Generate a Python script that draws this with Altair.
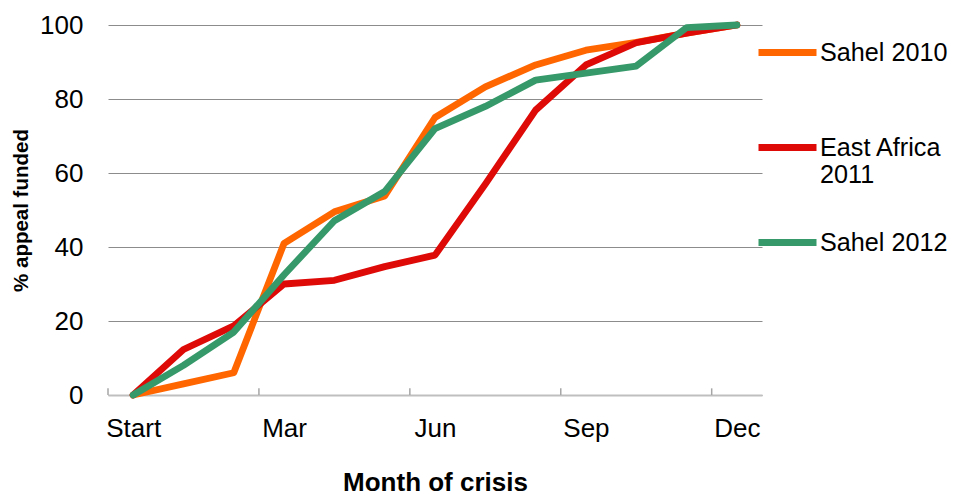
import altair as alt
import pandas as pd

months = ["Start", "Jan", "Feb", "Mar", "Apr", "May", "Jun",
          "Jul", "Aug", "Sep", "Oct", "Nov", "Dec"]
labelled = ["Start", "Mar", "Jun", "Sep", "Dec"]

series_names = ["Sahel 2010", "East Africa 2011", "Sahel 2012"]
series_colors = ["#FF6600", "#DD0A08", "#36996A"]

sahel_2010 = [0, 3, 6, 41, 49.5, 53.8, 75, 83.3, 89.2, 93.2, 95.3, 97.8, 100]
east_africa_2011 = [0, 12.3, 18.7, 30, 31, 34.7, 37.8, 57, 77, 89.2, 95.2, 97.8, 100]
sahel_2012 = [0, 8, 17, 32.5, 47.1, 55, 72, 78, 85.1, 87, 88.9, 99.3, 100]

y_ticks = [0, 20, 40, 60, 80, 100]

rows = []
for name, vals in zip(series_names, [sahel_2010, east_africa_2011, sahel_2012]):
    for i, v in enumerate(vals):
        rows.append({"idx": i, "month": months[i], "series": name, "value": v})
df = pd.DataFrame(rows)

label_idx = [months.index(m) for m in labelled]
tick_df = pd.DataFrame({"pos": [i - 0.5 for i in label_idx if i - 0.5 < len(months) - 1],
                        "y0": 0, "y1": 1.8})

month_js = "[" + ",".join("'" + m + "'" for m in months) + "]"

x_scale = alt.Scale(domain=[-0.5, len(months) - 0.5], nice=False, zero=False)
y_scale = alt.Scale(domain=[0, 100], nice=False)

lines = alt.Chart(df).mark_line(
    strokeWidth=6.8, strokeCap="round", strokeJoin="round"
).encode(
    x=alt.X("idx:Q", scale=x_scale,
            axis=alt.Axis(values=label_idx, labelExpr=month_js + "[datum.value]",
                          title="Month of crisis", grid=False, ticks=False, tickSize=0,
                          labelPadding=20, titleY=95, titleBaseline="alphabetic",
                          domainColor="#BFBFBF", domainWidth=2,
                          labelFontSize=26, titleFontSize=26, titleFontWeight="bold",
                          labelFont="Liberation Sans", titleFont="Liberation Sans",
                          labelColor="#000000", titleColor="#000000", labelFlush=False)),
    y=alt.Y("value:Q", scale=y_scale,
            axis=alt.Axis(values=y_ticks, title="% appeal funded", grid=True,
                          gridColor="#8C8C8C", gridWidth=1, domain=False, ticks=False,
                          tickSize=0, labelPadding=25, titlePadding=8,
                          labelFontSize=26, titleFontSize=20.5, titleFontWeight="bold",
                          labelFont="Liberation Sans", titleFont="Liberation Sans",
                          labelColor="#000000", titleColor="#000000")),
    color=alt.Color("series:N",
                    scale=alt.Scale(domain=series_names, range=series_colors),
                    legend=alt.Legend(orient="none", legendX=647, legendY=-5, title=None,
                                      symbolType="stroke", symbolStrokeWidth=7,
                                      symbolSize=3364, labelFontSize=25.2,
                                      labelFont="Liberation Sans", labelColor="#000000",
                                      labelOffset=0, rowPadding=22, padding=0,
                                      labelLimit=400,
                                      labelExpr="datum.label == 'East Africa 2011' ? ['East Africa', '2011'] : [datum.label, ' ']")),
    order=alt.Order("idx:Q"),
)

ticks = alt.Chart(tick_df).mark_rule(color="#A6A6A6", strokeWidth=1.5).encode(
    x=alt.X("pos:Q", scale=x_scale),
    y=alt.Y("y0:Q", scale=y_scale),
    y2="y1:Q",
)

chart = alt.layer(ticks, lines).properties(
    width=654, height=370,
    autosize=alt.AutoSizeParams(type="none"),
    padding={"left": 100, "top": 17, "right": 187, "bottom": 101},
).configure_view(stroke=None)

chart.save("out.html", embed_options={"renderer": "svg", "actions": False})
